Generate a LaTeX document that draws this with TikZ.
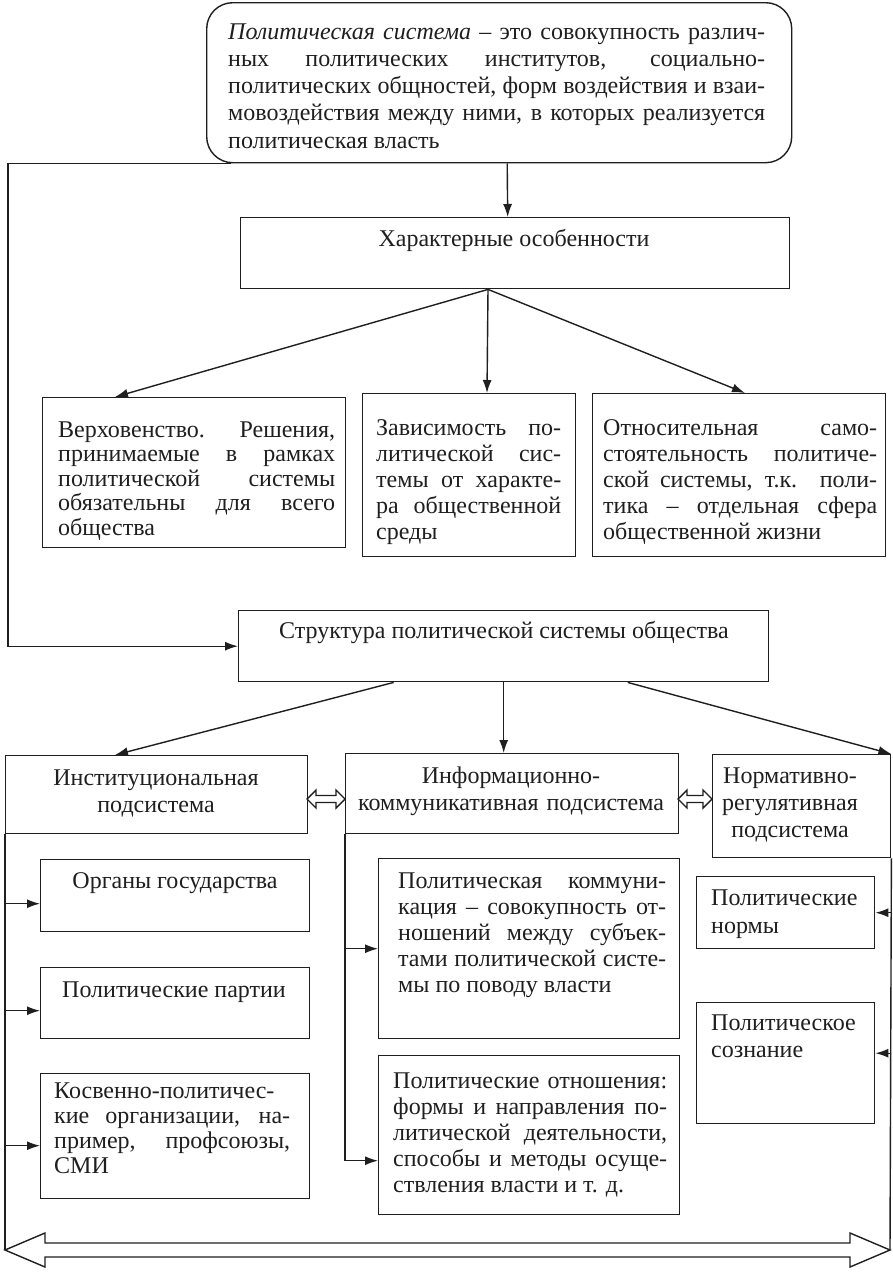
\documentclass[tikz,border=0pt]{standalone}
\usepackage{fontspec}
\setmainfont{Liberation Serif}
\usetikzlibrary{arrows.meta,calc}
\definecolor{ink}{gray}{0.12}
\newcommand\J[1]{\makebox[\linewidth][s]{#1}\\}
\newcommand\bx[5]{\node[box, minimum width={#4-#2}, minimum height={#5-#3}] (#1) at (#2,#3) {};}
\newcommand\hdbl[6]{\draw[conn] (#1,#3) -- ({#1+#6},{#3-#4}) -- ({#1+#6},{#3-#5}) -- ({#2-#6},{#3-#5}) -- ({#2-#6},{#3-#4}) -- (#2,#3) -- ({#2-#6},{#3+#4}) -- ({#2-#6},{#3+#5}) -- ({#1+#6},{#3+#5}) -- ({#1+#6},{#3+#4}) -- cycle;}
\begin{document}
\begin{tikzpicture}[x=1pt,y=-1pt,
  box/.style={draw=ink, line width=1.4pt, inner sep=0pt, anchor=north west},
  arr/.style={draw=ink, line width=1.4pt, -{Latex[length=13pt,width=9pt]}},
  conn/.style={draw=ink, line width=1.4pt, line join=miter},
  txt/.style={inner sep=0pt, text=ink, font=\fontsize{24}{26}\selectfont},
  jtxt/.style={txt, anchor=base west, align=justify},
  ctxt/.style={txt, anchor=base, align=center}]
\fill[white] (0,0) rectangle (892,1272);
\useasboundingbox (0,0) rectangle (892,1272);

% boxes
\node[box, rounded corners=26pt, minimum width=585, minimum height=160] (top) at (206,2) {};
\bx{ch}{240}{217}{789}{288}
\bx{b1}{42}{397}{345}{547}
\bx{b2}{362}{393}{575}{556}
\bx{b3}{592}{393}{885}{556}
\bx{st}{238}{610}{768}{681}
\bx{inst}{5}{755}{307}{833}
\bx{info}{345}{753}{678}{833}
\bx{norm}{712}{754}{890}{857}
\bx{org}{40}{859}{309}{931}
\bx{par}{40}{967}{309}{1038}
\bx{kos}{40}{1073}{309}{1198}
\bx{comm}{378}{858}{679}{1038}
\bx{rel}{378}{1055}{679}{1214}
\bx{nms}{696}{876}{874}{948}
\bx{cns}{696}{1002}{874}{1123}

% texts
\node[jtxt, text width=537pt, font=\fontsize{24}{27.25}\selectfont] (ttop) at (228,39)
 {\J{\textit{Политическая система} – это совокупность различ-}\J{ных политических институтов, социально-}\J{политических общностей, форм воздействия и взаи-}\J{мовоздействия между ними, в которых реализуется}политическая власть};
\node[ctxt] (tch) at (514,246) {Характерные особенности};
\node[jtxt, text width=277pt, font=\fontsize{24}{24.5}\selectfont] (tb1) at (58,437)
 {\J{Верховенство. Решения,}\J{принимаемые в рамках}\J{политической системы}\J{обязательны для всего}общества};
\node[jtxt, text width=185pt] (tb2) at (376,435.5)
 {\J{Зависимость по-}\J{литической сис-}\J{темы от характе-}\J{ра общественной}среды};
\node[jtxt, text width=274pt] (tb3) at (603,435.5)
 {\J{Относительная само-}\J{стоятельность политиче-}\J{ской системы, т.к. поли-}\J{тика – отдельная сфера}общественной жизни};
\node[ctxt] (tst) at (504,638) {Структура политической системы общества};
\node[ctxt, text width=290pt, font=\fontsize{24}{27}\selectfont] (tinst) at (156,785.5) {Институциональная\\подсистема};
\node[ctxt, text width=330pt, font=\fontsize{24}{27}\selectfont] (tinfo) at (511,783.5) {Информационно-\\коммуникативная подсистема};
\node[ctxt, text width=170pt, font=\fontsize{24}{27}\selectfont] (tnorm) at (790,783.5) {Нормативно-\\регулятивная\\подсистема};
\node[ctxt] (torg) at (175,888.5) {Органы государства};
\node[ctxt] (tpar) at (174,997.5) {Политические партии};
\node[jtxt, text width=236pt, font=\fontsize{24}{25}\selectfont] (tkos) at (54,1098.5)
 {\J{Косвенно-политичес-}\J{кие организации, на-}\J{пример, профсоюзы,}СМИ};
\node[jtxt, text width=268pt] (tcomm) at (398,888.5)
 {\J{Политическая коммуни-}\J{кация – совокупность от-}\J{ношений между субъек-}\J{тами политической систе-}мы по поводу власти};
\node[jtxt, text width=274pt] (trel) at (393,1088.5)
 {\J{Политические отношения:}\J{формы и направления по-}\J{литической деятельности,}\J{способы и методы осуще-}ствления власти и т. д.};
\node[jtxt, text width=160pt, align=left, font=\fontsize{24}{28}\selectfont] (tnms) at (711,905.5) {Политические\\нормы};
\node[jtxt, text width=160pt, align=left, font=\fontsize{24}{27}\selectfont] (tcns) at (711,1030.5) {Политическое\\сознание};

% connectors
\draw[arr] ($(top.south)+(8,0)$) -- ($(ch.north)+(-7.5,0)$);
\draw[arr] ($(ch.south west)+(248,0)$) -- ($(b1.north west)+(73,0)$);
\draw[arr] ($(ch.south west)+(248,0)$) -- ($(b2.north west)+(125,0)$);
\draw[arr] ($(ch.south west)+(248,0)$) -- ($(b3.north west)+(153,0)$);
\draw[arr] ($(top.south west)+(25,0)$) -| ($(st.west)+(-230,0)$) -- (st.west);
\draw[arr] ($(st.south)+(-110,0)$) -- ($(inst.north west)+(110,0)$);
\draw[arr] (st.south) -- (st.south |- info.north);
\draw[arr] ($(st.south)+(124,0)$) -- (norm.north east);

\coordinate (bl) at (5,1250);
\coordinate (br) at (890,1250);
\draw[conn] (inst.south west) -- (bl);
\draw[arr] ($(org.west)+(-35,8)$) -- ($(org.west)+(0,8)$);
\draw[arr] ($(par.west)+(-35,7.5)$) -- ($(par.west)+(0,7.5)$);
\draw[arr] ($(kos.west)+(-35,9.5)$) -- ($(kos.west)+(0,9.5)$);
\draw[arr] (info.south west) |- ($(rel.west)+(0,25.5)$);
\draw[arr] (comm.west -| info.west) -- (comm.west);
\draw[conn] (norm.south east) -- (br);
\draw[arr] (nms.east -| norm.east) -- (nms.east);
\draw[arr] ($(cns.east)+(16,-10)$) -- ($(cns.east)+(0,-10)$);

% double arrows
\hdbl{307}{345}{799}{9}{3.5}{9}
\hdbl{678}{712}{799}{9}{3.5}{9}
\hdbl{5}{890}{1250}{17}{7}{40}
\end{tikzpicture}
\end{document}
